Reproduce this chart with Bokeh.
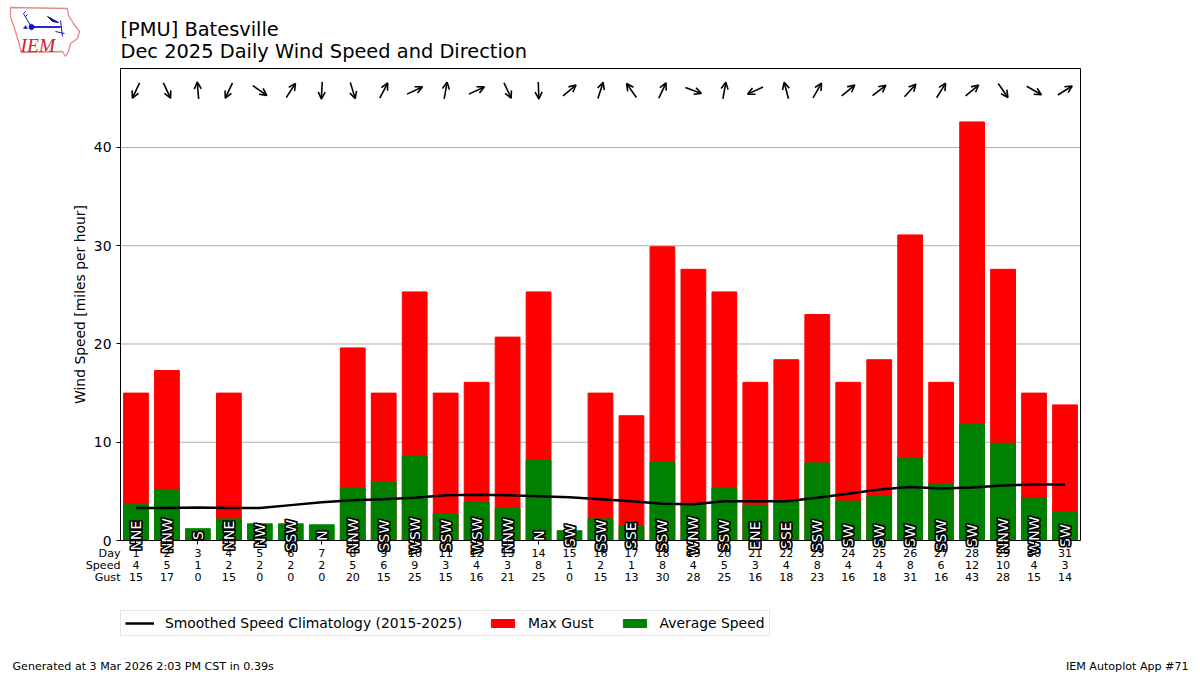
from bokeh.plotting import figure
from bokeh.models import (ColumnDataSource, Label, Legend, LegendItem, FixedTicker, Arrow, LinearAxis,
                          OpenHead, PolyAnnotation)
from bokeh.core.properties import value
from bokeh.embed import file_html
from bokeh.resources import INLINE
import numpy as np

days = list(range(1, 32))
speed_lbl = [4,5,1,2,2,2,2,5,6,9,3,4,3,8,1,2,1,8,4,5,3,4,8,4,4,8,6,12,10,4,3]
gust_lbl = [15,17,0,15,0,0,0,20,15,25,15,16,21,25,0,15,13,30,28,25,16,18,23,16,18,31,16,43,28,15,14]
max_gust = [15.0,17.3,0,15.0,0,0,0,19.6,15.0,25.3,15.0,16.1,20.7,25.3,0,15.0,12.7,29.9,27.6,25.3,16.1,18.4,23.0,16.1,18.4,31.1,16.1,42.6,27.6,15.0,13.8]
avg_speed = [3.7,5.2,1.2,2.2,1.7,1.7,1.6,5.4,6.0,8.6,2.7,3.9,3.3,8.2,1.0,2.2,1.5,8.0,3.7,5.4,3.6,3.9,7.9,4.0,4.5,8.4,5.8,11.9,9.9,4.3,2.9]
climo = [3.3,3.3,3.35,3.3,3.3,3.6,3.9,4.1,4.2,4.35,4.6,4.65,4.6,4.5,4.4,4.2,4.0,3.75,3.7,4.0,4.0,4.0,4.35,4.75,5.2,5.45,5.3,5.4,5.6,5.7,5.7]
dir_lbl = ["NNE","NNW","S","NNE","NW","SSW","N","NNW","SSW","WSW","SSW","WSW","NNW","N","SW","SSW","SSE","SSW","WNW","SSW","ENE","SSE","SSW","SW","SW","SW","SSW","SW","NNW","WNW","SW"]
arrow_bearing = [205,155,355,205,125,33,183,163,28,65,10,65,155,178,50,18,325,25,110,10,245,345,30,50,52,42,32,50,145,120,58]
y_ticks = [0, 10, 20, 30, 40]

W, H = 1200, 675
FL, FR, FT, FB = 120, 1080, 68, 540
X0, X1, Y0, Y1 = 0.5, 31.5, 0.0, 48.04
PX_X = (FR - FL) / (X1 - X0)
PX_Y = (FB - FT) / (Y1 - Y0)
FONT = "DejaVu Sans"
sy = lambda v: H - v

# The frame fills the page so that nothing is clipped; the axes sit at fixed data locations.
p = figure(width=W, height=H, output_backend="svg", toolbar_location=None,
           x_range=(X0 - FL / PX_X, X1 + (W - FR) / PX_X), y_range=(Y0 - (H - FB) / PX_Y, Y1 + FT / PX_Y),
           x_axis_location=None, y_axis_location=None,
           min_border_left=0, min_border_right=0, min_border_top=0, min_border_bottom=0)
p.outline_line_color = None
p.grid.visible = False
p.background_fill_color = "white"

yaxis = LinearAxis(fixed_location=X0, ticker=FixedTicker(ticks=y_ticks),
                   minor_tick_line_color=None, axis_line_color=None, major_tick_out=4, major_tick_in=0,
                   major_label_text_font=FONT, major_label_text_font_size="13.9px", major_label_text_color="black",
                   major_label_standoff=5)
p.add_layout(yaxis, "left")
xaxis = LinearAxis(fixed_location=Y0, ticker=FixedTicker(ticks=days),
                   major_label_overrides={d: f"{d}\n{s}\n{g}" for d, s, g in zip(days, speed_lbl, gust_lbl)},
                   minor_tick_line_color=None, axis_line_color=None, major_tick_out=4, major_tick_in=0,
                   major_label_text_font=FONT, major_label_text_font_size="11.1px", major_label_text_color="black",
                   major_label_text_line_height=0.95, major_label_standoff=2)
p.add_layout(xaxis, "below")

p.segment(x0=[X0] * len(y_ticks), x1=[X1] * len(y_ticks), y0=y_ticks, y1=y_ticks, line_color="#b0b0b0", line_width=1)

src = ColumnDataSource(dict(day=days, gust=max_gust, avg=avg_speed, climo=climo, y=[0.5] * 31, d=dir_lbl))
r_gust = p.vbar(x="day", top="gust", width=0.8, color="#ff0000", source=src)
r_avg = p.vbar(x="day", top="avg", width=0.8, color="#008000", source=src)
r_climo = p.line(x="day", y="climo", line_color="black", line_width=2.5, source=src)
p.quad(left=[X0], right=[X1], bottom=[Y0], top=[Y1], fill_color=None, line_color="black", line_width=1)

# direction labels: black halo + white core
for ox, oy in [(-1, -1), (1, -1), (-1, 1), (1, 1)]:
    p.text(x="day", y="y", text="d", source=src, angle=90, angle_units="deg", x_offset=ox, y_offset=oy,
           text_align="center", text_baseline="middle", text_color="black", text_outline_color="black",
           text_font=value(FONT), text_font_size="14px")
p.text(x="day", y="y", text="d", source=src, angle=90, angle_units="deg",
       text_align="center", text_baseline="middle", text_color="white",
       text_font=value(FONT), text_font_size="14px")

# arrows: pointing along bearing, fixed pixel length
L = 8.5
rad = np.deg2rad(arrow_bearing)
ya = 45.8
arrow_src = ColumnDataSource(dict(
    x0=np.array(days) - L * np.sin(rad) / PX_X, x1=np.array(days) + L * np.sin(rad) / PX_X,
    y0=ya - L * np.cos(rad) / PX_Y, y1=ya + L * np.cos(rad) / PX_Y))
p.add_layout(Arrow(end=OpenHead(size=7, line_width=1.6, line_color="black"), line_width=1.6, line_color="black",
                   x_start="x0", y_start="y0", x_end="x1", y_end="y1", source=arrow_src))

def txt(x, y, t, align="left", size="11.1px", **kw):
    kw.setdefault("text_font", FONT)
    p.add_layout(Label(x=x, y=sy(y), x_units="screen", y_units="screen", text=t, text_align=align,
                       text_baseline="middle", text_font_size=size, text_color=kw.pop("text_color", "black"), **kw))

txt(120, 29, "[PMU] Batesville", size="19.4px")
txt(120, 51, "Dec 2025 Daily Wind Speed and Direction", size="19.4px")
txt(79, 304, "Wind Speed [miles per hour]", "center", size="13.9px", angle=90, angle_units="deg")
for py, t in zip([553, 565, 577], ["Day", "Speed", "Gust"]):
    txt(120, py, t, "right")
txt(12, 666, "Generated at 3 Mar 2026 2:03 PM CST in 0.39s")
txt(1188, 666, "IEM Autoplot App #71", "right")

def poly(xs, ys, fill=None, line="#1010d0", lw=1.2):
    p.add_layout(PolyAnnotation(xs=list(xs), ys=[sy(v) for v in ys], xs_units="screen", ys_units="screen",
                                fill_color=fill, fill_alpha=1.0, line_color=line, line_alpha=1.0, line_width=lw))

poly([10, 67, 68, 73, 79, 77, 70, 68, 65, 62, 21, 18, 14, 10],
     [7, 8, 15, 23, 31, 38, 43, 51, 56, 51, 52, 41, 28, 16], line="#e58a8a", lw=1.3)
poly([31, 60, 60, 31], [26, 26, 27, 27], fill="#1010d0", lw=0.8)
poly([28.5, 31, 33.5, 33.5, 31, 28.5], [25, 23.5, 25, 28, 29.5, 28], fill="#1010d0", lw=0.5)
poly([30, 23], [25, 13], lw=1)
poly([23, 25], [13, 11], lw=1)
poly([25, 27], [16, 14], lw=1)
poly([60, 62], [20, 36], lw=1)
poly([47, 58, 52], [16, 22, 21], fill="#101080", line="#101080", lw=1)
poly([55, 64], [31, 33], lw=1)
poly([23, 25, 27], [28, 25, 28], fill="#1010d0", lw=0.5)
txt(20, 45, "IEM", size="19.5px", text_font="Liberation Serif", text_font_style="italic", text_color="#d0202a")

legend = Legend(items=[LegendItem(label="Smoothed Speed Climatology (2015-2025)", renderers=[r_climo]),
                       LegendItem(label="Max Gust", renderers=[r_gust]),
                       LegendItem(label="Average Speed", renderers=[r_avg])],
                orientation="horizontal", location=(120, H - 636),
                label_text_font=FONT, label_text_font_size="13.9px", label_text_color="black",
                border_line_color="#cccccc", spacing=26, margin=0, padding=4,
                glyph_width=29, glyph_height=10, label_standoff=11, label_height=16)
p.add_layout(legend, "center")

open("out.html", "w").write(file_html(p, INLINE))
